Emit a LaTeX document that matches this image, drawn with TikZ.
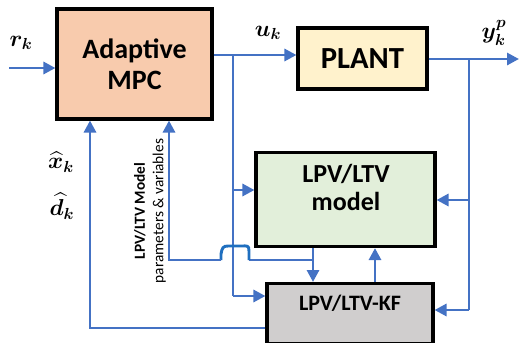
\documentclass[tikz,border=0pt]{standalone}
\usepackage{fontspec}
\setmainfont{Carlito}
\usepackage{amsmath,bm}
\usetikzlibrary{arrows.meta}
\definecolor{lblue}{HTML}{4472C4}
\definecolor{hopblue}{HTML}{1F6FBF}
\definecolor{peach}{HTML}{F8CBAD}
\definecolor{cream}{HTML}{FFF2CC}
\definecolor{lgreen}{HTML}{E2EFDA}
\definecolor{lgray}{HTML}{D0CECE}
\tikzset{
  blk/.style={draw=black, line width=2.3pt, inner sep=0pt, font=\bfseries, align=center},
  wire/.style={draw=lblue, line width=2.2pt},
  arr/.style={wire, -{Triangle[length=9pt,width=9pt]}},
  mlab/.style={font=\LARGE, inner sep=1pt},
}
\begin{document}
\begin{tikzpicture}[x=0.75pt,y=-0.75pt]
\useasboundingbox (0,0) rectangle (519,343);
% blocks
\node[blk, fill=peach, minimum width=155*0.75pt, minimum height=110*0.75pt, font=\bfseries\fontsize{21}{23}\selectfont] (mpc) at (134.5,64) {Adaptive\\MPC};
\node[blk, fill=cream, minimum width=129*0.75pt, minimum height=61*0.75pt, font=\bfseries\fontsize{23}{25}\selectfont] (plant) at (362.5,58.5) {PLANT};
\node[blk, fill=lgreen, minimum width=179*0.75pt, minimum height=94*0.75pt, anchor=north] (model) at (345.5,151) {};
\node[font=\bfseries\fontsize{19.5}{21}\selectfont, align=center] (mtext) at (346,187) {LPV/LTV\\model};
\node[blk, fill=lgray, minimum width=166*0.75pt, minimum height=60*0.75pt, anchor=north] (kf) at (350,282) {};
\node[font=\bfseries\fontsize{16.5}{18}\selectfont] (kftext) at (350,303) {LPV/LTV-KF};
% coordinates
\coordinate (rin) at (9,68);
\coordinate (ju) at (233,55);
\coordinate (jum) at (233,190);
\coordinate (juk) at (233,296);
\coordinate (jy) at (469,59);
\coordinate (yout) at (519,59);
\coordinate (jym) at (469,200);
\coordinate (jyk) at (469,310);
\coordinate (jp) at (313,260);
\coordinate (pc) at (169,260);
\coordinate (hl) at (221,260);
\coordinate (hr) at (249,260);
\coordinate (kfo) at (90,328);
% wires
\draw[arr] (rin) -- (rin -| mpc.west);
\draw[arr] (ju -| mpc.east) -- (ju -| plant.west);
\draw[wire] (ju) -- (juk);
\draw[arr] (jum) -- (jum -| model.west);
\draw[arr] (juk) -- (juk -| kf.west);
\draw[arr] (jy -| plant.east) -- (yout);
\draw[wire] (jy) -- (jyk);
\draw[arr] (jym) -- (jym -| model.east);
\draw[arr] (jyk) -- (jyk -| kf.east);
\draw[arr] (model.south -| jp) -- (kf.north -| jp);
\draw[arr] (kf.north -| 375,0) -- (model.south -| 375,0);
\draw[wire] (jp) -- (hr);
\draw[wire, hopblue] (hr) -- (249,251) .. controls (249,245) and (247,246) .. (242,246) -- (228,246) .. controls (223,246) and (222,248) .. (221,254) -- (hl);
\draw[arr] (hl) -- (pc) -- (pc |- mpc.south);
\draw[arr] (kfo -| kf.west) -- (kfo) -- (kfo |- mpc.south);
% labels
\node[mlab] (lr) at (21,43) {$\bm{r_k}$};
\node[mlab] (lu) at (268,33) {$\bm{u_k}$};
\node[mlab] (ly) at (494,33) {$\bm{y_k^{p}}$};
\node[mlab] (lx) at (61,162) {$\bm{\widehat{x}_k}$};
\node[mlab] (ld) at (62,206) {$\bm{\widehat{d}_k}$};
\node[rotate=90, align=center, font=\fontsize{11.5}{14}\selectfont] (lp) at (150,211) {\textbf{LPV/LTV Model}\\parameters \& variables};
\end{tikzpicture}
\end{document}
